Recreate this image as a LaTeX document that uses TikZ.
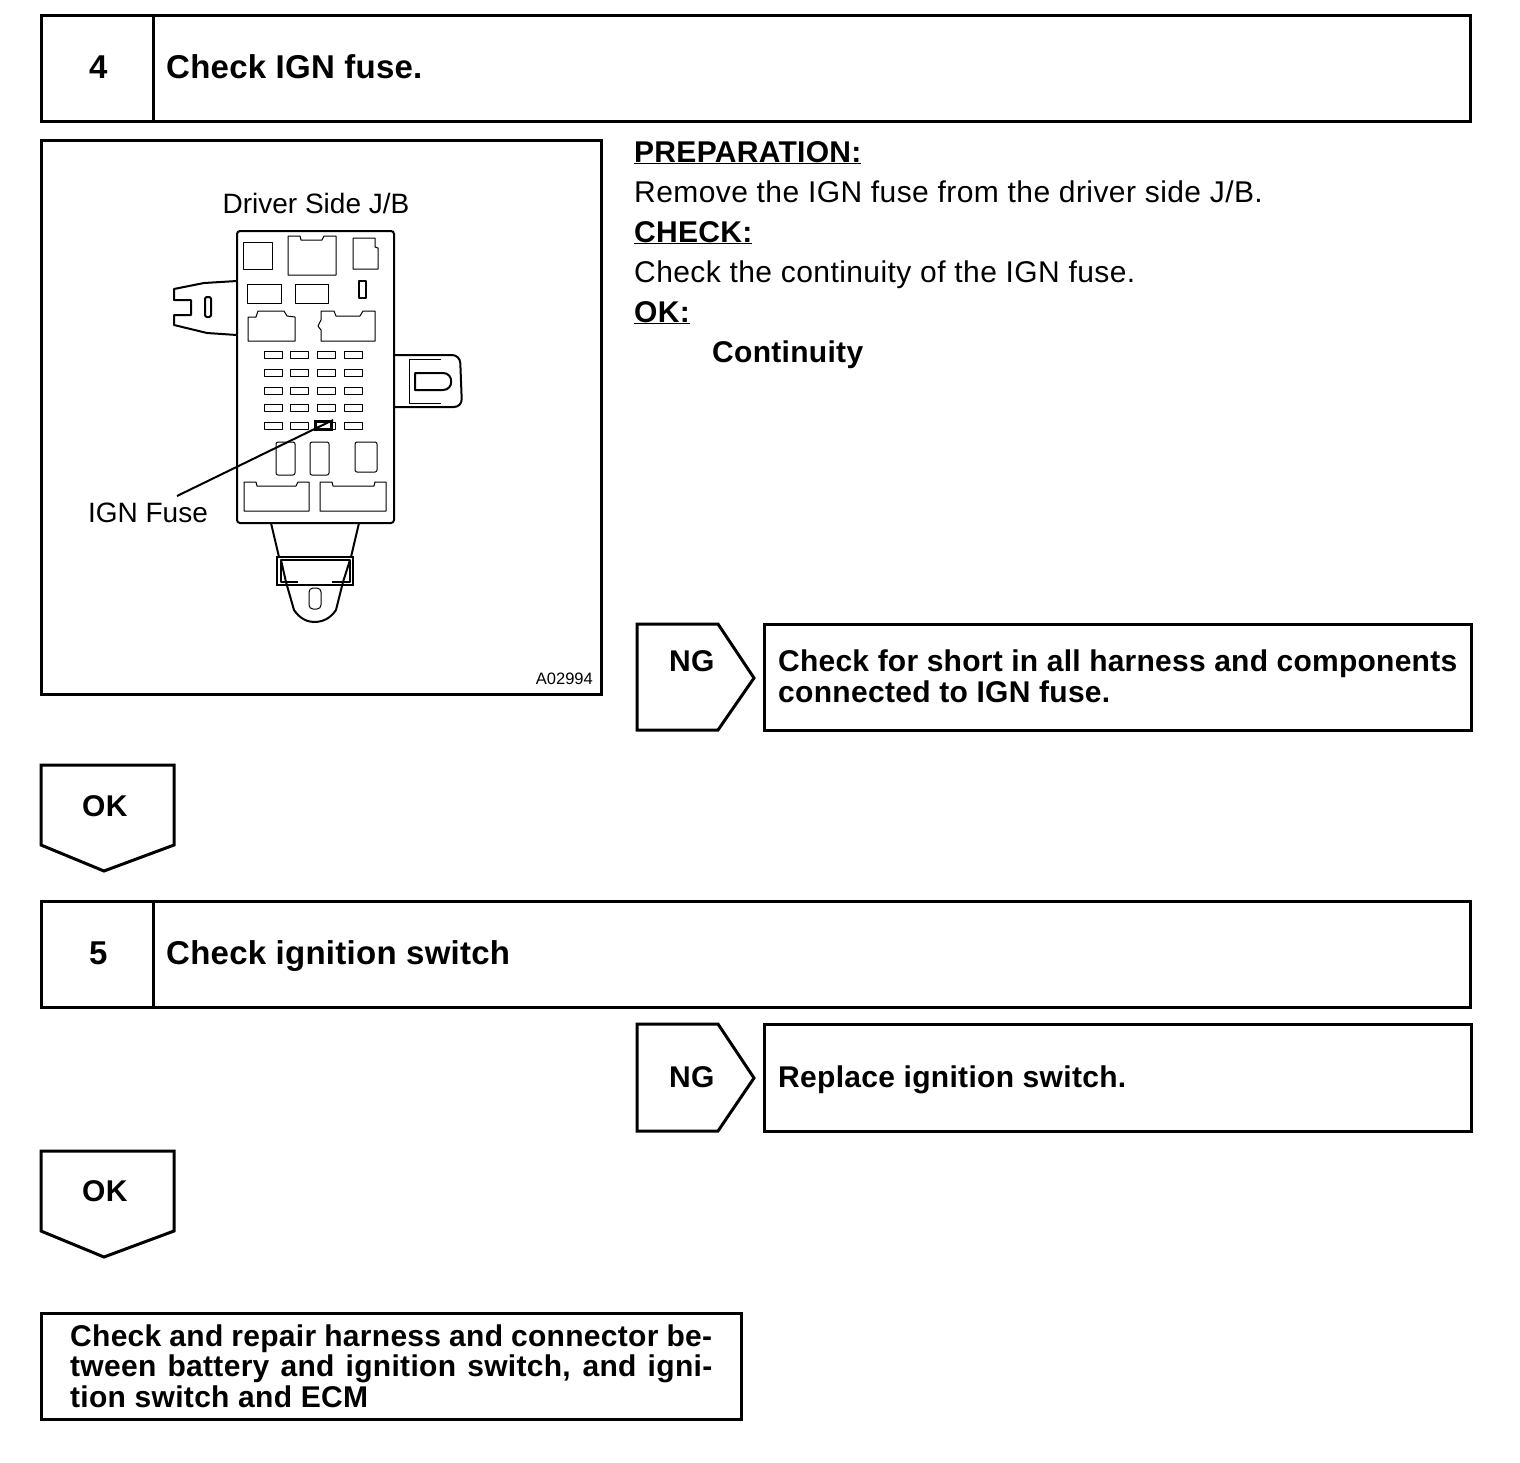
\documentclass[tikz,border=0pt]{standalone}
\usepackage{fontspec}
\setmainfont{Liberation Sans}
\usetikzlibrary{positioning}
\newcommand{\fullline}[1]{\makebox[642pt][s]{#1}}
\tikzset{
  headtext/.style={font=\fontsize{33}{36}\selectfont\bfseries\addfontfeature{LetterSpace=0.8}, anchor=base west, inner sep=0pt},
  bodytext/.style={font=\fontsize{30}{31}\selectfont\addfontfeature{LetterSpace=1.4}, anchor=base west, inner sep=0pt},
  boldtext/.style={font=\fontsize{30}{31}\selectfont\bfseries\addfontfeature{LetterSpace=1.0}, anchor=base west, inner sep=0pt, align=left},
  figlabel/.style={font=\fontsize{28}{30}\selectfont, anchor=base, inner sep=0pt},
  outline/.style={draw=black, line width=3pt, line join=miter},
  jbline/.style={draw=black, line width=2pt, line join=round},
  jbthin/.style={draw=black, line width=1pt, line join=round}
}
\begin{document}
\begin{tikzpicture}[x=1pt, y=-1pt]
  \useasboundingbox (0,0) rectangle (1520,1462);
  % step 4
  \draw[outline] (41,15) rectangle (1470,121);
  \draw[outline] (153,15) -- (153,121);
  \node[headtext] (numfour) at (89,78) {4};
  \node[headtext] (stepfour) at (166,78) {Check IGN fuse.};

  % picture frame
  \draw[outline] (41,140) rectangle (601,694);
  \node[figlabel] (jblabel) at (316,213) {Driver Side J/B};
  \node[figlabel] (ignlabel) at (148,522) {IGN Fuse};
  \node[font=\fontsize{16.5}{18}\selectfont, anchor=base east, inner sep=0pt] (figcode) at (593,684) {A02994};

  % junction block body
  \draw[jbline, rounded corners=3pt] (237,231) rectangle (394,523);
  % left bracket
  \draw[jbline] (237,281) -- (204,283) -- (174,289) -- (174,300) -- (191,300) -- (191,315) -- (174,315) -- (174,325) -- (207,333) -- (237,335);
  \draw[jbline, rounded corners=2pt] (205,297) rectangle (211,317);
  % right bracket
  \draw[jbline, rounded corners=8pt] (394,355) -- (460,355) -- (462,407) -- (394,407);
  \draw[jbthin] (441,359) -- (409,359) -- (409,403) -- (441,403);
  \draw[jbline] (415,373) -- (443,373) .. controls (454,373) and (454,390) .. (443,390) -- (415,390) -- cycle;
  % upper relays
  \draw[jbthin] (243,242) rectangle (272,269);
  \draw[jbthin] (288,236) -- (300,236) -- (301,240) -- (322,240) -- (324,236) -- (336,236) -- (336,275) -- (288,275) -- cycle;
  \draw[jbthin] (353,238) -- (375,238) -- (375,247) -- (378,248) -- (378,269) -- (353,269) -- cycle;
  \draw[jbthin] (247,284) rectangle (281,303);
  \draw[jbthin] (295,284) rectangle (328,303);
  \draw[jbline] (359,281) rectangle (366,298);
  \draw[jbthin] (248,317) -- (256,317) -- (258,311) -- (284,311) -- (287,316) -- (295,317) -- (295,341) -- (248,341) -- cycle;
  \draw[jbthin] (321,311) -- (334,311) -- (336,316) -- (360,316) -- (363,311) -- (375,311) -- (375,341) -- (321,341) -- (321,330) -- (318,326) -- (321,320) -- cycle;
  % fuse rows
  \foreach \fy in {355,373,391,408,426} {
    \foreach \fx in {273,299,326,353} {
      \draw[jbthin] (\fx-9,\fy-3.5) rectangle (\fx+9,\fy+3.5);
    }
  }
  \node[draw=black, line width=3pt, fill=white, minimum width=16pt, minimum height=8pt, inner sep=0pt] (ignfuse) at (323.5,425.5) {};
  \coordinate (leaderend) at (177,496);
  \draw[draw=black, line width=2pt] (leaderend) -- (ignfuse.north east);
  % lower fuses
  \draw[jbthin, rounded corners=2pt] (276,442) rectangle (295,475);
  \draw[jbthin, rounded corners=2pt] (310,442) rectangle (329,475);
  \draw[jbthin, rounded corners=2pt] (355,442) rectangle (377,472);
  \draw[jbthin] (244,482) -- (256,482) -- (257,486) -- (296,486) -- (298,482) -- (309,482) -- (309,511) -- (244,511) -- cycle;
  \draw[jbthin] (320,482) -- (332,482) -- (333,486) -- (374,486) -- (375,482) -- (386,482) -- (386,511) -- (320,511) -- cycle;
  % lower tab
  \draw[jbline] (271,523) -- (279,557);
  \draw[jbline] (359,523) -- (351,557);
  \draw[draw=black, line width=1.5pt] (277,557) rectangle (353,585);
  \draw[jbline] (298,582) -- (281,582) -- (281,560) -- (350,560) -- (350,582) -- (332,582);
  \draw[jbline] (281,560) -- (286,582) -- (294,610) .. controls (300,619) and (308,622) .. (314,622) .. controls (322,622) and (330,619) .. (336,610) -- (343,582) -- (350,560);
  \draw[jbthin, rounded corners=4pt] (309,588) rectangle (321,609);

  % instructions
  \node[boldtext] (prephead) at (634,162) {\underline{PREPARATION:}};
  \node[bodytext] (preptext) at (634,202) {Remove the IGN fuse from the driver side J/B.};
  \node[boldtext] (checkhead) at (634,242) {\underline{CHECK:}};
  \node[bodytext] (checktext) at (634,282) {Check the continuity of the IGN fuse.};
  \node[boldtext] (okhead) at (634,322) {\underline{OK:}};
  \node[boldtext] (oktext) at (712,362) {Continuity};

  % NG branch of step 4
  \draw[outline] (637,624) -- (718,624) -- (754,678) -- (718,730) -- (637,730) -- cycle;
  \node[boldtext] (ngfour) at (669,671) {NG};
  \draw[outline] (764,624) rectangle (1471,730);
  \node[boldtext] (ngfourtext) at (778,671) {\addfontfeature{LetterSpace=0.8}Check for short in all harness and components};
  \node[boldtext] (ngfourtextb) at (778,702) {connected to IGN fuse.};

  % OK arrow of step 4
  \draw[outline] (41,765) -- (174,765) -- (174,845) -- (104,871) -- (41,845) -- cycle;
  \node[boldtext] (okfour) at (82,816) {OK};

  % step 5
  \draw[outline] (41,901) rectangle (1470,1007);
  \draw[outline] (153,901) -- (153,1007);
  \node[headtext] (numfive) at (89,964) {5};
  \node[headtext] (stepfive) at (166,964) {Check ignition switch};

  % NG branch of step 5
  \draw[outline] (637,1024) -- (718,1024) -- (754,1078) -- (718,1131) -- (637,1131) -- cycle;
  \node[boldtext] (ngfive) at (669,1087) {NG};
  \draw[outline] (764,1024) rectangle (1471,1131);
  \node[boldtext] (ngfivetext) at (778,1087) {Replace ignition switch.};

  % OK arrow of step 5
  \draw[outline] (41,1151) -- (174,1151) -- (174,1231) -- (104,1257) -- (41,1231) -- cycle;
  \node[boldtext] (okfive) at (82,1201) {OK};

  % last box
  \draw[outline] (41,1313) rectangle (741,1419);
  \node[boldtext] (lastone) at (70,1346) {\fullline{Check and repair harness and connector be-}};
  \node[boldtext] (lasttwo) at (70,1376) {\fullline{tween battery and ignition switch, and igni-}};
  \node[boldtext] (lastthree) at (70,1407) {tion switch and ECM};
\end{tikzpicture}
\end{document}
